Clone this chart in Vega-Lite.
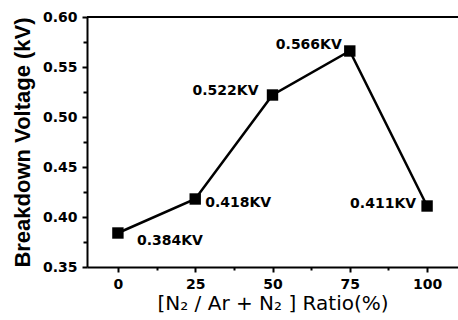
{
  "$schema": "https://vega.github.io/schema/vega-lite/v6.json",
  "width": 371,
  "height": 250,
  "autosize": "none",
  "padding": {"left": 87, "top": 17, "right": 0, "bottom": 53},
  "background": "white",
  "config": {
    "view": {"stroke": null},
    "axis": {
      "domainColor": "black",
      "domainWidth": 2,
      "tickColor": "black",
      "tickWidth": 2,
      "labelColor": "black",
      "titleColor": "black",
      "grid": false
    }
  },
  "data": {
    "values": [
      {"ratio": 0, "voltage": 0.384, "label": "0.384KV"},
      {"ratio": 25, "voltage": 0.418, "label": "0.418KV"},
      {"ratio": 50, "voltage": 0.522, "label": "0.522KV"},
      {"ratio": 75, "voltage": 0.566, "label": "0.566KV"},
      {"ratio": 100, "voltage": 0.411, "label": "0.411KV"}
    ]
  },
  "encoding": {
    "x": {
      "field": "ratio",
      "type": "quantitative",
      "scale": {"domain": [-10, 110], "nice": false, "zero": false},
      "axis": {
        "values": [0, 12.5, 25, 37.5, 50, 62.5, 75, 87.5, 100],
        "labelExpr": "datum.value % 25 == 0 ? format(datum.value, 'd') : ''",
        "labelFontSize": {"condition": {"test": "datum.value % 25 == 0", "value": 14}, "value": 0},
        "tickSize": {"condition": {"test": "datum.value % 25 == 0", "value": 5}, "value": 3},
        "labelFont": "DejaVu Sans",
        "labelFontWeight": "bold",
        "labelPadding": 5,
        "title": "[N₂ / Ar + N₂ ] Ratio(%)",
        "titleFont": "DejaVu Sans",
        "titleFontWeight": "normal",
        "titleFontSize": 20,
        "titlePadding": 2
      }
    },
    "y": {
      "field": "voltage",
      "type": "quantitative",
      "scale": {"domain": [0.35, 0.6], "nice": false, "zero": false},
      "axis": {
        "values": [0.35, 0.375, 0.4, 0.425, 0.45, 0.475, 0.5, 0.525, 0.55, 0.575, 0.6],
        "labelExpr": "round(datum.value * 1000) % 50 == 0 ? format(datum.value, '.2f') : ''",
        "labelFontSize": {"condition": {"test": "round(datum.value * 1000) % 50 == 0", "value": 14}, "value": 0},
        "tickSize": {"condition": {"test": "round(datum.value * 1000) % 50 == 0", "value": 5}, "value": 4},
        "labelFont": "DejaVu Sans",
        "labelFontWeight": "bold",
        "labelPadding": 5,
        "title": "Breakdown Voltage (kV)",
        "titleFont": "Liberation Sans",
        "titleFontWeight": "bold",
        "titleFontSize": 22,
        "titlePadding": 8
      }
    }
  },
  "layer": [
    {
      "mark": {"type": "rule", "color": "black", "strokeWidth": 2},
      "encoding": {"y": {"datum": 0.6, "type": "quantitative"}, "x": null}
    },
    {
      "mark": {"type": "line", "color": "black", "strokeWidth": 2.5}
    },
    {
      "mark": {"type": "point", "shape": "square", "filled": true, "color": "black", "size": 130, "opacity": 1}
    },
    {
      "transform": [{"filter": "datum.ratio == 0"}],
      "mark": {"type": "text", "font": "DejaVu Sans", "fontWeight": "bold", "fontSize": 14, "color": "black", "align": "left", "baseline": "middle", "dx": 19, "dy": 8},
      "encoding": {"text": {"field": "label"}}
    },
    {
      "transform": [{"filter": "datum.ratio == 25"}],
      "mark": {"type": "text", "font": "DejaVu Sans", "fontWeight": "bold", "fontSize": 14, "color": "black", "align": "left", "baseline": "middle", "dx": 10, "dy": 4},
      "encoding": {"text": {"field": "label"}}
    },
    {
      "transform": [{"filter": "datum.ratio == 50"}],
      "mark": {"type": "text", "font": "DejaVu Sans", "fontWeight": "bold", "fontSize": 14, "color": "black", "align": "right", "baseline": "middle", "dx": -14, "dy": -4},
      "encoding": {"text": {"field": "label"}}
    },
    {
      "transform": [{"filter": "datum.ratio == 75"}],
      "mark": {"type": "text", "font": "DejaVu Sans", "fontWeight": "bold", "fontSize": 14, "color": "black", "align": "right", "baseline": "middle", "dx": -8, "dy": -6},
      "encoding": {"text": {"field": "label"}}
    },
    {
      "transform": [{"filter": "datum.ratio == 100"}],
      "mark": {"type": "text", "font": "DejaVu Sans", "fontWeight": "bold", "fontSize": 14, "color": "black", "align": "right", "baseline": "middle", "dx": -11, "dy": -2},
      "encoding": {"text": {"field": "label"}}
    }
  ]
}
